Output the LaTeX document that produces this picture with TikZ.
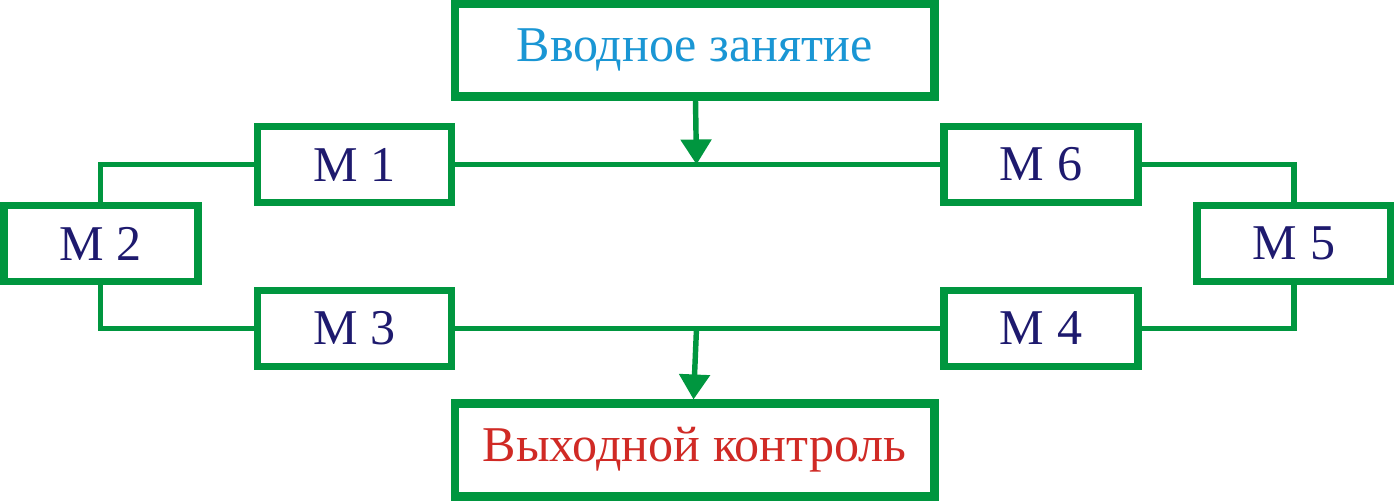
\documentclass[tikz,border=0pt]{standalone}
\usepackage{fontspec}
\setmainfont{Liberation Serif}
\usepackage{tikz}
\usetikzlibrary{positioning,arrows.meta,calc}
\usepackage{xcolor}
\definecolor{kgreen}{HTML}{00963F}
\definecolor{knavy}{HTML}{1E1A6E}
\definecolor{kblue}{HTML}{1A96D4}
\definecolor{kred}{HTML}{D02A25}

\begin{document}
\begin{tikzpicture}[
    x=0.02cm, y=-0.02cm,
    font=\fontsize{28.5}{31}\selectfont,
    modbox/.style={draw=kgreen, line width=4.3pt, fill=white, text=knavy,
        minimum width=3.88cm, minimum height=1.52cm, inner sep=0pt},
    bigbox/.style={draw=kgreen, line width=4.6pt, fill=white,
        minimum width=9.6cm, minimum height=1.86cm, inner sep=0pt},
    link/.style={draw=kgreen, line width=3.1pt},
    flow/.style={link, -{Triangle[length=0.5cm,width=0.6cm]}}
]
    \useasboundingbox (0,0) rectangle (1394,502);

    % 1. Вводное и выходное занятия
    \node[bigbox, text=kblue] (vvod) at (694.5,50) {Вводное занятие};
    \node[bigbox, text=kred] (vyhod) at (694.5,450) {Выходной контроль};

    % 2. Модули (левая ветвь)
    \node[modbox] (m1) at (354.5,164.5) {М 1};
    \node[modbox] (m2) at (100.75,243.5) {М 2};
    \node[modbox] (m3) at (354.5,328.5) {М 3};

    % 3. Модули (правая ветвь)
    \node[modbox] (m6) at (1041,164.5) {М 6};
    \node[modbox] (m5) at (1294,243.5) {М 5};
    \node[modbox] (m4) at (1041,328.5) {М 4};

    % --- СОЕДИНЕНИЯ ---
    \coordinate (jtop) at ($(vvod.south |- m1.east)+(2,0)$);
    \coordinate (jbot) at ($(vyhod.north |- m3.east)+(2,0)$);

    \draw[link] (m1.east) -- (m6.west);
    \draw[link] (m3.east) -- (m4.west);
    \draw[link] (m2.north) |- (m1.west);
    \draw[link] (m2.south) |- (m3.west);
    \draw[link] (m5.north) |- (m6.east);
    \draw[link] (m5.south) |- (m4.east);

    % --- СТРЕЛКИ ---
    \draw[flow] ($(vvod.south)+(1,0)$) -- (jtop);
    \draw[flow] (jbot) -- ($(vyhod.north)+(-1,0)$);

\end{tikzpicture}
\end{document}
